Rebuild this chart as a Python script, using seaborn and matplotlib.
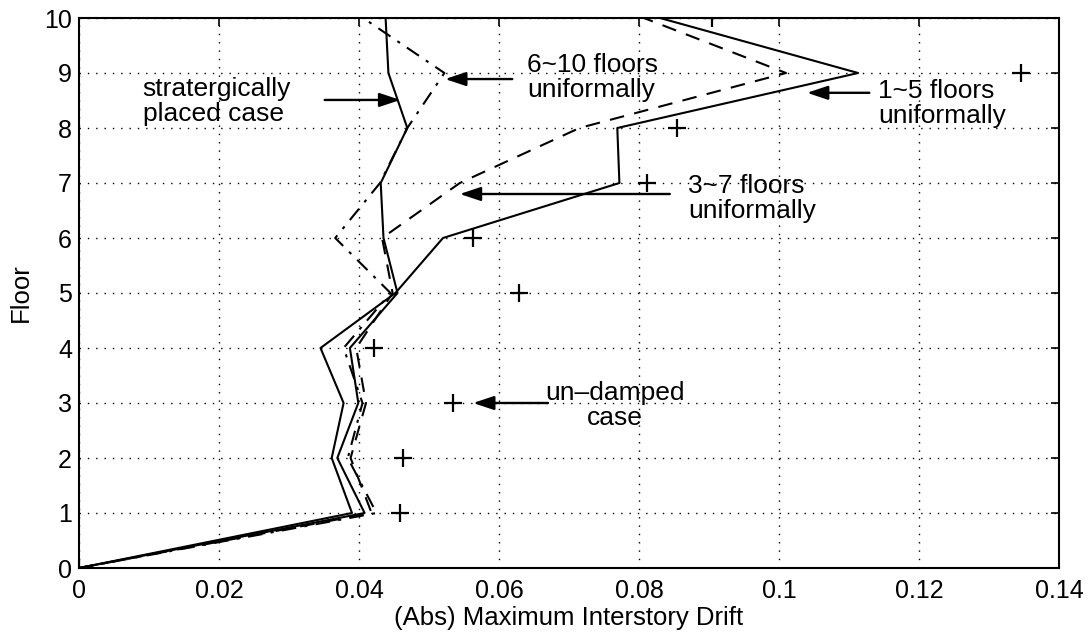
import matplotlib
matplotlib.use("Agg")
import matplotlib.pyplot as plt
import seaborn as sns
import pandas as pd
import numpy as np

floors = [0, 1, 2, 3, 4, 5, 6, 7, 8, 9, 10]
strategic = [0, 0.0408, 0.0369, 0.0399, 0.0387, 0.0455, 0.0435, 0.0431, 0.0469, 0.0442, 0.0438]
floors_1_5 = [0, 0.0390, 0.0361, 0.0378, 0.0345, 0.0452, 0.0520, 0.0772, 0.0769, 0.1113, 0.0830]
floors_3_7 = [0, 0.0418, 0.0388, 0.0410, 0.0396, 0.0448, 0.0433, 0.0544, 0.0715, 0.1010, 0.0807]
floors_6_10 = [0, 0.0425, 0.0384, 0.0405, 0.0378, 0.0445, 0.0366, 0.0430, 0.0469, 0.0522, 0.0406]
undamped = [0, 0.0459, 0.0463, 0.0534, 0.0421, 0.0629, 0.0563, 0.0811, 0.0854, 0.1346, 0.0904]

xticks = [0, 0.02, 0.04, 0.06, 0.08, 0.1, 0.12, 0.14]
xtick_labels = ["0", "0.02", "0.04", "0.06", "0.08", "0.1", "0.12", "0.14"]
yticks = list(range(0, 11))

sns.set_style("white")
plt.rcParams['font.family'] = ['Liberation Sans', 'DejaVu Sans']
plt.rcParams['text.color'] = 'black'
plt.rcParams['axes.labelcolor'] = 'black'

fig = plt.figure(figsize=(10.89, 6.37), dpi=100)
ax = fig.add_axes([79/1089, 1-568/637, 980/1089, 550/637])

series = [
    (strategic, None),
    (floors_1_5, None),
    (floors_3_7, (7, 5)),
    (floors_6_10, (7, 4, 1.5, 4)),
]
for vals, dash in series:
    df = pd.DataFrame({"drift": vals, "floor": floors})
    sns.lineplot(data=df, x="drift", y="floor", sort=False, estimator=None,
                 color="black", lw=1.5, ax=ax)
    l = ax.lines[-1]
    if dash is not None:
        l.set_dashes(dash)

dfu = pd.DataFrame({"drift": undamped, "floor": floors})
sns.scatterplot(data=dfu, x="drift", y="floor", marker="+", s=170, color="black",
                linewidth=1.6, ax=ax, zorder=5)

ax.set_xlim(0, 0.14)
ax.set_ylim(0, 10)
ax.set_xticks(xticks)
ax.set_xticklabels(xtick_labels)
ax.set_yticks(yticks)
ax.grid(True, color="black", linestyle=(0, (1, 5)), linewidth=1.0)
ax.tick_params(direction="in", top=True, right=True, length=6, width=1.2,
               labelsize=18, colors="black")
ax.tick_params(axis="x", pad=8)
ax.tick_params(axis="y", pad=5)
for s in ax.spines.values():
    s.set_color("black")
    s.set_linewidth(1.5)
ax.set_xlabel("(Abs) Maximum Interstory Drift", fontsize=18.5, labelpad=2, color="black")
ax.set_ylabel("Floor", fontsize=18.5, labelpad=8, color="black")

arrow_kw = dict(arrowstyle="-|>,head_length=0.9,head_width=0.3", color="black",
                lw=1.7, mutation_scale=14, shrinkA=0, shrinkB=0)
fs = 19
tk = dict(fontsize=fs, va="center", linespacing=1.05, color="black")

ax.text(0.0091, 8.49, "stratergically\nplaced case", ha="left", **tk)
ax.annotate("", xy=(0.0459, 8.51), xytext=(0.0351, 8.51), arrowprops=arrow_kw)

ax.text(0.0640, 8.92, "6~10 floors\nuniformally", ha="left", **tk)
ax.annotate("", xy=(0.0523, 8.89), xytext=(0.0619, 8.89), arrowprops=arrow_kw)

ax.text(0.1142, 8.45, "1~5 floors\nuniformally", ha="left", **tk)
ax.annotate("", xy=(0.1040, 8.64), xytext=(0.1129, 8.64), arrowprops=arrow_kw)

ax.text(0.0870, 6.71, "3~7 floors\nuniformally", ha="left", **tk)
ax.annotate("", xy=(0.0544, 6.80), xytext=(0.0844, 6.80), arrowprops=arrow_kw)

ax.text(0.0766, 2.96, "un\u2013damped\ncase", ha="center", **tk)
ax.annotate("", xy=(0.0563, 3.0), xytext=(0.0670, 3.0), arrowprops=arrow_kw)

fig.savefig("out.png", dpi=100)
